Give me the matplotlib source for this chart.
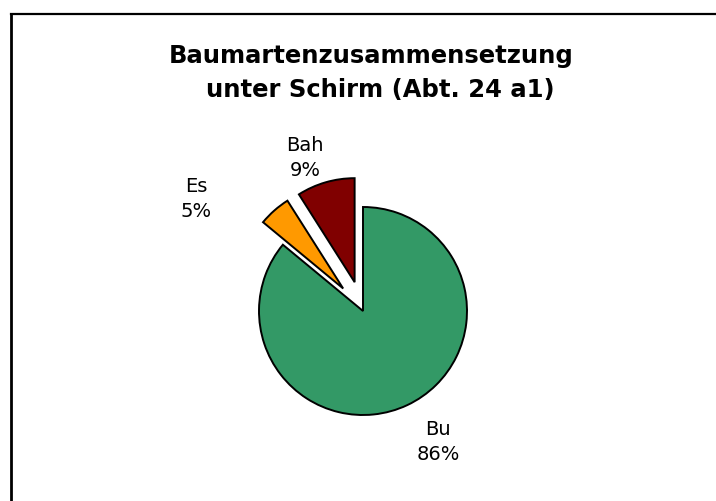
import matplotlib.pyplot as plt
from matplotlib.lines import Line2D

# data
species = ["Bu", "Es", "Bah"]
shares = [86, 5, 9]
colors = ["#339966", "#FF9900", "#800000"]
explode = [0, 30, 30]  # pixel units (axes are in pixels)
# label anchors (pixels from top-left)
label_pos = [(438, 442), (196, 199), (305, 158)]
title_lines = ["Baumartenzusammensetzung", "unter Schirm (Abt. 24 a1)"]

W, H = 716, 502
fig = plt.figure(figsize=(W / 100, H / 100), dpi=100)
ax = fig.add_axes([0, 0, 1, 1])

wedges, _ = ax.pie(shares, colors=colors, explode=explode, startangle=90,
                   counterclock=False, center=(363, H - 312), radius=104,
                   wedgeprops=dict(edgecolor="black", linewidth=1.4),
                   frame=True)
ax.set_xlim(0, W)
ax.set_ylim(0, H)
ax.set_aspect("equal")
ax.axis("off")

# labels with percentage
for name, val, (px, py) in zip(species, shares, label_pos):
    ax.text(px, H - py, f"{name}\n{val}%", ha="center", va="center",
            fontsize=14, linespacing=1.45, family="DejaVu Sans")

# title, two lines placed on their baselines
for line, (tx, ty) in zip(title_lines, [(371, 63), (380, 97)]):
    ax.text(tx, H - ty, line, ha="center", va="baseline", fontsize=17.5,
            fontweight="bold", family="DejaVu Sans")

# chart area border (only left and top visible)
x0 = 11 / W
y0 = (H - 14.5) / H
fig.add_artist(Line2D([x0, x0], [0, y0], color="black", lw=2, transform=fig.transFigure))
fig.add_artist(Line2D([x0, 1], [y0, y0], color="black", lw=1.6, transform=fig.transFigure))

fig.savefig("out.png", dpi=100, facecolor="white")
